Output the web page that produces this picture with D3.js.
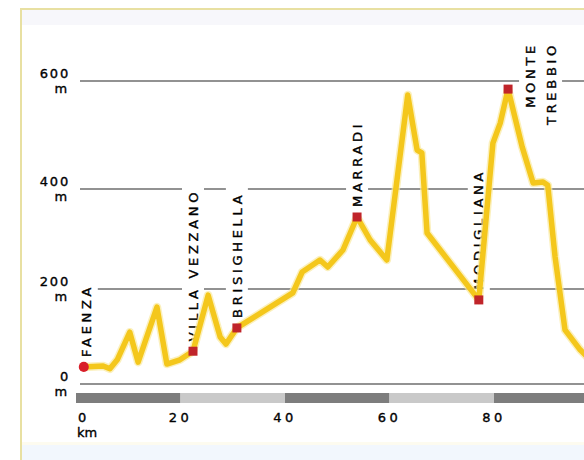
<!DOCTYPE html>
<html>
<head>
<meta charset="utf-8">
<script src="https://cdn.jsdelivr.net/npm/d3@7"></script>
<style>
  html, body { margin: 0; padding: 0; background: #ffffff; }
  svg { display: block; }
  text { font-family: "DejaVu Sans", sans-serif; fill: #000000; stroke: #000000; stroke-width: 0.35px; }
</style>
</head>
<body>
<svg id="chart" width="584" height="460"></svg>
<script>
// ---- data ----
const profileKm   = [1.3, 5.0, 6.3, 7.7, 10.1, 11.7, 15.3, 17.2, 19.7, 22.2, 25.1, 27.4, 28.5, 30.6, 41.3, 43.1, 46.5, 48.0, 50.9, 53.6, 56.1, 59.3, 63.3, 65.1, 66.0, 67.0, 76.9, 79.6, 81.0, 82.5, 85.2, 87.3, 89.2, 90.1, 91.5, 93.4, 96.3, 98.2];
const profileElev = [36, 38, 32, 51, 109, 46, 162, 42, 51, 69, 187, 99, 84, 118, 192, 234, 258, 244, 278, 344, 298, 258, 574, 472, 467, 312, 177, 485, 522, 585, 478, 411, 413, 407, 264, 114, 72, 51];

const placeNames = ["FAENZA", "VILLA VEZZANO", "BRISIGHELLA", "MARRADI", "MODIGLIANA", "MONTE TREBBIO"];
const placeKm    = [1.3, 22.2, 30.6, 53.6, 76.9, 82.5];
const placeElev  = [36, 69, 118, 344, 177, 585];

const yTickValues = [0, 200, 400, 600];
const yUnit = "m";
const xTickValues = [0, 20, 40, 60, 80];
const xUnit = "km";
const barSegments = [0, 20, 40, 60, 80, 100];

// ---- scales ----
const svg = d3.select("#chart");
const x = d3.scaleLinear().domain([0, 80]).range([77, 495]);
const y = d3.scaleLinear().domain([0, 200, 400, 600]).range([384, 289, 189, 81]);

// ---- frame & bands ----
svg.append("rect").attr("x", 21).attr("y", 10).attr("width", 580).attr("height", 15).attr("fill", "#f7f7fb");
svg.append("rect").attr("x", 21).attr("y", 442).attr("width", 580).attr("height", 3).attr("fill", "#fdfbef");
svg.append("rect").attr("x", 21).attr("y", 445).attr("width", 580).attr("height", 20).attr("fill", "#f2f7fd");
svg.append("path").attr("d", "M21,470 V9 H600").attr("fill", "none").attr("stroke", "#e8e0a2").attr("stroke-width", 2);

// ---- gridlines ----
svg.append("g").selectAll("line").data(yTickValues).join("line")
  .attr("x1", x(0) + 3).attr("x2", 584)
  .attr("y1", d => y(d)).attr("y2", d => y(d))
  .attr("stroke", "#6e6e6e").attr("stroke-width", 1.6);

// ---- y tick labels ----
const yl = svg.append("g").style("font-size", "13px").style("letter-spacing", "1.8px");
yl.selectAll("text.num").data(yTickValues).join("text").attr("class", "num")
  .attr("x", 70).attr("y", d => y(d) - 3).attr("text-anchor", "end").text(d => d);
yl.selectAll("text.unit").data(yTickValues).join("text").attr("class", "unit")
  .attr("x", 69).attr("y", d => y(d) + 12).attr("text-anchor", "end").text(yUnit);

// ---- distance bar ----
const segs = d3.pairs(barSegments);
svg.append("g").selectAll("rect").data(segs).join("rect")
  .attr("x", d => x(d[0]) - 1).attr("width", d => x(d[1]) - x(d[0]))
  .attr("y", 393).attr("height", 10)
  .attr("fill", (d, i) => i % 2 === 0 ? "#7d7d7d" : "#c9c9c9");

const xl = svg.append("g").style("font-size", "13px").style("letter-spacing", "3.5px");
xl.selectAll("text").data(xTickValues).join("text")
  .attr("x", d => d === 0 ? x(d) + 1 : x(d) - 1)
  .attr("y", 422)
  .attr("text-anchor", d => d === 0 ? "start" : "middle")
  .text(d => d);
svg.append("text").attr("x", 77).attr("y", 437).style("font-size", "13px").text(xUnit);

// ---- place labels (rotated) ----
const labelG = svg.append("g");
const places = placeNames.map((n, i) => ({ name: n, km: placeKm[i], elev: placeElev[i] }));
places.forEach((p, i) => {
  const px = x(p.km), py = y(p.elev);
  const g = labelG.append("g");
  const bg = g.append("g");
  let lines, xs, anchorY, anchor;
  if (i === places.length - 1) {
    lines = p.name.split(" ");
    xs = [px + 22, px + 43];
    anchorY = 42; anchor = "end";
  } else {
    lines = [p.name];
    xs = [px + (i === 0 ? 3 : 0)];
    anchorY = py - 10; anchor = "start";
  }
  lines.forEach((t, j) => {
    const txt = g.append("text")
      .attr("transform", `translate(${xs[j]},${anchorY}) rotate(-90)`)
      .attr("text-anchor", anchor)
      .attr("dy", "0.36em")
      .style("font-size", "13px").style("letter-spacing", "3.7px")
      .text(t);
    const len = txt.node().getComputedTextLength();
    const top = anchor === "start" ? anchorY - len : anchorY;
    const bottom = anchor === "start" ? anchorY : anchorY + len;
    bg.append("rect").attr("x", xs[j] - 11).attr("width", 22)
      .attr("y", top - 4).attr("height", bottom - top + 8)
      .attr("fill", "#ffffff");
  });
});

// ---- profile line ----
const pts = profileKm.map((k, i) => [k, profileElev[i]]);
const line = d3.line().x(d => x(d[0])).y(d => y(d[1]));
svg.append("path").datum(pts).attr("d", line)
  .attr("fill", "none").attr("stroke", "#fae9a0").attr("stroke-width", 8.5)
  .attr("stroke-linejoin", "round").attr("stroke-linecap", "round").attr("opacity", 0.7);
svg.append("path").datum(pts).attr("d", line)
  .attr("fill", "none").attr("stroke", "#f4c71c").attr("stroke-width", 5.5)
  .attr("stroke-linejoin", "round").attr("stroke-linecap", "round");

// ---- markers ----
svg.append("g").selectAll("path").data(places).join("path")
  .attr("transform", d => `translate(${x(d.km)},${y(d.elev)})`)
  .attr("d", (d, i) => i === 0 ? d3.symbol(d3.symbolCircle, 80)() : d3.symbol(d3.symbolSquare, 81)())
  .attr("fill", (d, i) => i === 0 ? "#d81e2a" : "#c0242a");
</script>
</body>
</html>
